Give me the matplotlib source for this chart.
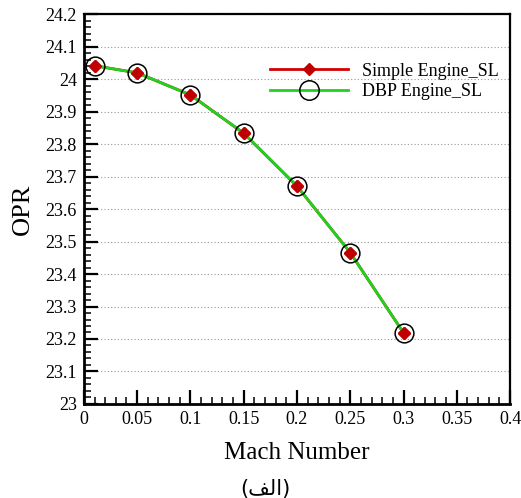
import matplotlib
matplotlib.use("Agg")
import matplotlib.pyplot as plt
from matplotlib.ticker import MultipleLocator

# data
mach = [0.01, 0.05, 0.10, 0.15, 0.20, 0.25, 0.30]
opr_simple = [24.042, 24.020, 23.952, 23.834, 23.671, 23.466, 23.219]
opr_dbp = [24.042, 24.020, 23.952, 23.834, 23.671, 23.466, 23.219]

x_label = "Mach Number"
y_label = "OPR"
# "(الف)" in presentation forms, visual order
sub_label = "(\ufed2\ufedf\ufe8d)"

plt.rcParams['font.family'] = ['Liberation Serif', 'DejaVu Sans']

fig = plt.figure(figsize=(5.21, 4.98), dpi=100)
ax = fig.add_axes([0.161, 0.189, 0.818, 0.782])

ax.plot(mach, opr_simple, color='#d40000', lw=2, marker='D', ms=6,
        mfc='#c00000', mec='#c00000', label='Simple Engine_SL', zorder=3)
ax.plot(mach, opr_dbp, color='#1ed21e', lw=2, marker='o', ms=13.5,
        mfc='none', mec='black', mew=1.1, label='DBP Engine_SL', zorder=4)
# keep the red diamonds visible on top of the green line
ax.plot(mach, opr_simple, ls='none', marker='D', ms=6,
        mfc='#c00000', mec='#c00000', zorder=5)

ax.set_xlim(0, 0.4)
ax.set_ylim(23, 24.2)
ax.xaxis.set_minor_locator(MultipleLocator(0.01))
ax.yaxis.set_minor_locator(MultipleLocator(0.02))
ax.set_xticks([0, 0.05, 0.1, 0.15, 0.2, 0.25, 0.3, 0.35, 0.4])
ax.set_xticklabels(['0', '0.05', '0.1', '0.15', '0.2', '0.25', '0.3', '0.35', '0.4'])
ax.set_yticks([23 + 0.1 * i for i in range(13)])
ax.set_yticklabels(['23', '23.1', '23.2', '23.3', '23.4', '23.5', '23.6',
                    '23.7', '23.8', '23.9', '24', '24.1', '24.2'])

ax.tick_params(which='both', direction='in', top=False, right=False,
               labelsize=13, colors='black', pad=5)
ax.tick_params(which='major', length=10, width=1.6)
ax.tick_params(which='minor', length=5, width=1.1)

ax.yaxis.grid(True, which='major', ls=(0, (1, 2)), color='#999999', lw=0.8)
ax.set_axisbelow(True)

for side in ['left', 'bottom']:
    ax.spines[side].set_linewidth(2)
for side in ['right', 'top']:
    ax.spines[side].set_linewidth(1.6)

ax.set_xlabel(x_label, fontsize=18, labelpad=10)
ax.set_ylabel(y_label, fontsize=19, labelpad=8)
fig.text(0.51, 0.018, sub_label, fontsize=15, family=['DejaVu Sans'],
         ha='center', va='center')

leg = ax.legend(loc='upper left', bbox_to_anchor=(0.42, 0.895), frameon=False,
                fontsize=13, handlelength=4.3, handletextpad=0.8,
                labelspacing=0.2, borderaxespad=0)
# legend circle is a bit larger than on the curve
leg.legend_handles[1].set_markersize(14)
leg.legend_handles[0].set_markersize(6.5)

fig.savefig('out.png', dpi=100)
